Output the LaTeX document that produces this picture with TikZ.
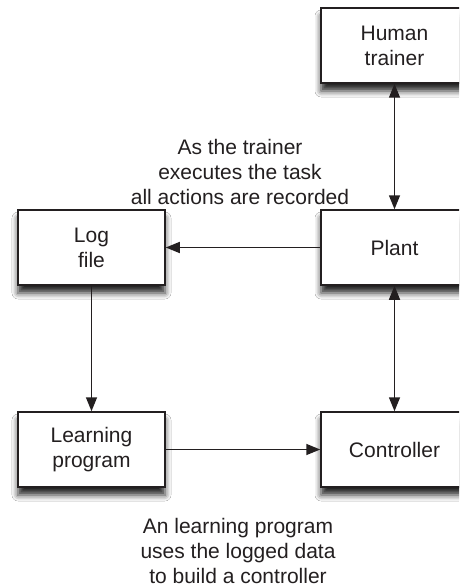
\documentclass[tikz,border=0pt]{standalone}
\usepackage{fontspec}
\setmainfont{Liberation Sans}
\usetikzlibrary{arrows.meta,shadows.blur}
\definecolor{ink}{HTML}{231F20}
\tikzset{
  box/.style={draw=ink, line width=1.5pt, fill=white, minimum width=147pt, minimum height=75pt,
    align=center, inner sep=0pt, text=ink, font=\fontsize{21}{25}\selectfont,
    blur shadow={shadow xshift=0pt, shadow yshift=-8pt, shadow blur radius=6pt, shadow opacity=85}},
  note/.style={align=center, text=ink, font=\fontsize{21}{25}\selectfont, inner sep=0pt},
  conn/.style={draw=ink, line width=1.5pt, -{Triangle[length=14pt,width=11pt]}},
  biconn/.style={draw=ink, line width=1.5pt, {Triangle[length=14pt,width=11pt]}-{Triangle[length=14pt,width=11pt]}}
}
\begin{document}
\begin{tikzpicture}[x=1pt,y=-1pt]
\useasboundingbox (0,0) rectangle (459,588);
\fill[white] (0,0) rectangle (459,588);
\clip (0,0) rectangle (459,588);
\node[box] (human) at (394.5,45.5) {Human\\trainer};
\node[box] (log) at (91.5,247.5) {Log\\file};
\node[box] (plant) at (394.5,247.5) {Plant};
\node[box] (learn) at (91.5,449.5) {Learning\\program};
\node[box] (ctrl) at (394.5,449.5) {Controller};
\node[note] (t1) at (240,172) {As the trainer\\executes the task\\all actions are recorded};
\node[note] (t2) at (238,551) {An learning program\\uses the logged data\\to build a controller};
\draw[biconn] (human.south) -- (plant.north);
\draw[conn] (plant.west) -- (log.east);
\draw[conn] (log.south) -- (learn.north);
\draw[conn] (learn.east) -- (ctrl.west);
\draw[biconn] (plant.south) -- (ctrl.north);
\end{tikzpicture}
\end{document}
